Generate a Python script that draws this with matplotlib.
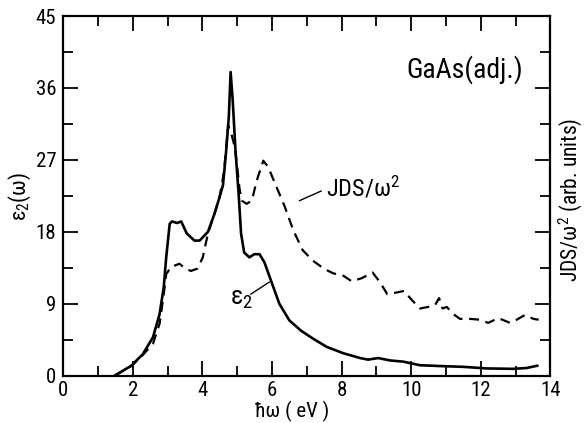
import numpy as np
import matplotlib
matplotlib.use("Agg")
import matplotlib.pyplot as plt
from matplotlib.ticker import MultipleLocator
from matplotlib import font_manager as fm

def pick(cands):
    for c in cands:
        try:
            fm.findfont(fm.FontProperties(family=c), fallback_to_default=False)
            return c
        except Exception:
            pass
    return 'DejaVu Sans'

FONT = pick(['Liberation Sans Narrow', 'DejaVu Sans Condensed', 'Roboto Condensed', 'Liberation Sans'])
plt.rcParams['font.family'] = [FONT, 'DejaVu Sans']
plt.rcParams['mathtext.fontset'] = 'custom'
plt.rcParams['mathtext.rm'] = FONT
plt.rcParams['mathtext.it'] = FONT

# epsilon_2 (solid)
eps_E = [1.48, 1.96, 2.29, 2.58, 2.77, 2.89, 2.96, 3.06, 3.13, 3.27, 3.39, 3.55, 3.77, 3.92,
         4.16, 4.35, 4.49, 4.59, 4.68, 4.76, 4.81, 4.87, 4.95, 5.04, 5.11, 5.20, 5.35, 5.49,
         5.64, 5.78, 5.97, 6.21, 6.50, 6.84, 7.19, 7.57, 8.05, 8.53, 8.76, 9.05, 9.39, 9.77,
         10.25, 10.82, 11.49, 12.16, 12.93, 13.31, 13.63]
eps_v = [0.0, 1.25, 2.7, 4.8, 7.7, 11.1, 14.8, 19.0, 19.3, 19.1, 19.3, 17.8, 16.9, 16.9,
         18.0, 20.3, 22.3, 23.8, 28.0, 32.5, 38.0, 34.5, 28.2, 22.8, 17.8, 15.4, 14.8, 15.2,
         15.2, 14.2, 11.9, 9.0, 6.9, 5.6, 4.6, 3.6, 2.8, 2.2, 2.0, 2.2, 1.9, 1.75,
         1.3, 1.2, 1.1, 0.9, 0.85, 0.95, 1.25]

# JDS / omega^2 (dashed)
jds_E = [1.48, 1.96, 2.29, 2.58, 2.77, 2.89, 2.96, 3.10, 3.34, 3.51, 3.67, 3.86, 4.01, 4.16,
         4.35, 4.50, 4.62, 4.74, 4.83, 4.93, 5.00, 5.06, 5.13, 5.27, 5.42, 5.56, 5.75, 5.89,
         6.13, 6.37, 6.61, 6.88, 7.17, 7.36, 7.48, 7.76, 8.05, 8.29, 8.58, 8.89, 9.10, 9.31,
         9.58, 9.79, 10.03, 10.25, 10.49, 10.68, 10.80, 10.90, 11.02, 11.21, 11.40, 11.69,
         11.97, 12.21, 12.50, 12.84, 13.03, 13.27, 13.51, 13.66]
jds_v = [0.0, 1.2, 2.6, 4.0, 6.5, 10.2, 12.7, 13.6, 14.0, 13.4, 13.1, 13.4, 14.8, 17.8,
         20.3, 22.5, 25.5, 31.3, 30.3, 28.6, 26.1, 23.6, 21.9, 21.5, 21.9, 24.4, 26.9, 26.1,
         23.6, 21.1, 18.2, 15.7, 14.4, 13.8, 13.4, 12.8, 12.5, 11.8, 12.2, 12.9, 11.7, 10.2,
         10.4, 10.6, 9.4, 8.4, 8.6, 8.8, 9.7, 8.4, 8.6, 7.7, 7.1, 7.1,
         7.0, 6.6, 7.2, 6.6, 7.0, 7.6, 7.1, 7.0]

x_ticks = [0, 2, 4, 6, 8, 10, 12, 14]
y_ticks = [0, 9, 18, 27, 36, 45]

fig = plt.figure(figsize=(5.85, 4.23), dpi=100)
ax = fig.add_axes([0.108, 0.112, 0.833, 0.850])

ax.plot(eps_E, eps_v, color='black', lw=1.9, solid_joinstyle='round', solid_capstyle='round')
ax.plot(jds_E, jds_v, color='black', lw=1.6, dashes=(4.5, 3.0))

ax.set_xlim(0, 14)
ax.set_ylim(0, 45)
ax.set_xticks(x_ticks)
ax.set_yticks(y_ticks)
ax.xaxis.set_minor_locator(MultipleLocator(1))
ax.yaxis.set_minor_locator(MultipleLocator(4.5))
ax.tick_params(which='both', direction='in', top=True, right=True, width=1.3,
               labelsize=15, colors='black')
ax.tick_params(which='major', length=11, pad=5)
ax.tick_params(axis='x', which='major', pad=4)
ax.tick_params(which='minor', length=7)
for s in ax.spines.values():
    s.set_linewidth(1.6)

ax.set_ylabel('ε$_2$(ω)', fontsize=16, labelpad=2)

fig.text(292 / 585, 1 - 417 / 423, 'ħω ( eV )', fontsize=15, ha='center', va='baseline')
fig.text(570 / 585, 1 - 200 / 423, 'JDS/ω$^2$ (arb. units)', fontsize=15.5,
         rotation=90, ha='center', va='center')

ax.text(13.2, 38.3, 'GaAs(adj.)', fontsize=20, ha='right', va='center')
ax.text(7.55, 23.4, 'JDS/ω$^2$', fontsize=17.5, ha='left', va='center')
ax.plot([6.79, 7.41], [21.9, 23.1], color='black', lw=1.0)
ax.text(4.8, 9.6, 'ε$_2$', fontsize=19, ha='left', va='center')
ax.plot([5.39, 5.92], [10.2, 11.7], color='black', lw=1.0)

fig.savefig('out.png', dpi=100)
